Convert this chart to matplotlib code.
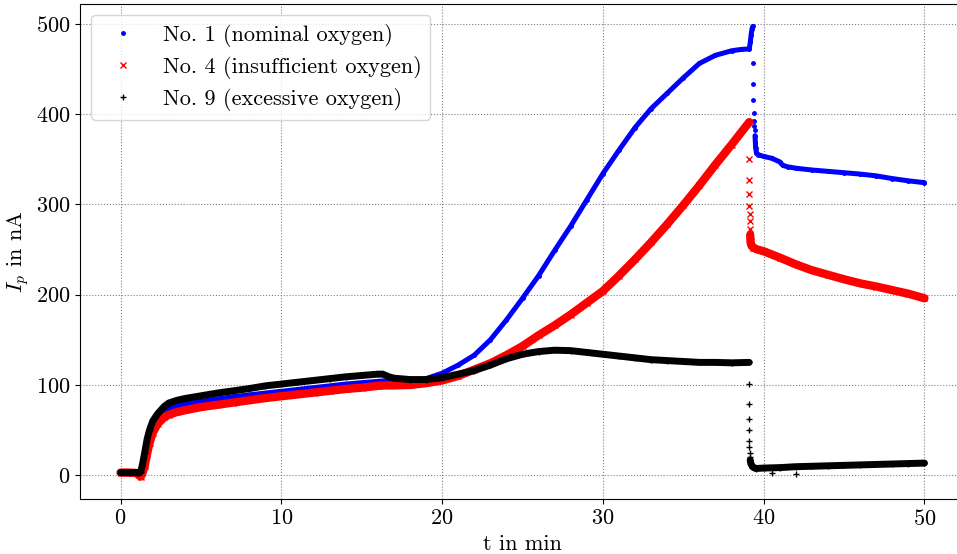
import matplotlib
matplotlib.use('Agg')
import matplotlib.pyplot as plt

plt.rcParams['font.family'] = ['cmr10', 'DejaVu Serif']
plt.rcParams['mathtext.fontset'] = 'cm'
plt.rcParams['axes.formatter.use_mathtext'] = True
plt.rcParams['axes.unicode_minus'] = False

# No. 1 (nominal oxygen) - vor dem Abfall, Abfall, danach
t_no1 = [0, 0.5, 1.0, 1.15, 1.25, 1.35, 1.5, 1.65, 1.8, 2.0, 2.3, 2.7, 3.0, 3.5, 4, 5, 6, 7, 8, 9,
         10, 11, 12, 13, 14, 15, 16, 16.3, 16.6, 17, 18, 19, 20, 21, 22, 23, 24, 25, 26, 27,
         28, 29, 30, 31, 32, 33, 34, 35, 36, 37, 38, 38.6, 39.1, 39.17, 39.22, 39.27, 39.32]
i_no1 = [3, 3, 3, 2, 1, 6, 18, 32, 45, 55, 64, 71, 74, 77, 79, 82, 84.5, 87, 89, 91,
         93, 95, 97, 99, 101, 102.5, 104, 104.5, 103.5, 103, 104, 107, 113, 122, 133, 150, 172, 196, 221, 249,
         276, 305, 334, 360, 385, 406, 423, 440, 456, 465, 470, 471.5, 472, 480, 488, 494, 497]
t_no1_drop = [39.34, 39.34, 39.35, 39.37, 39.4, 39.42, 39.44]
i_no1_drop = [456, 433, 416, 401, 392.5, 387, 382]
t_no1_after = [39.46, 39.48, 39.5, 39.55, 39.65, 40, 40.5, 41, 41.2, 41.5, 42, 43, 44, 45, 46, 47, 48, 49, 50]
i_no1_after = [376, 369, 362, 357, 355, 353, 351, 347, 343, 341.5, 340, 338, 336.5, 335, 333.5, 331.5, 328.5, 326, 324]

# No. 4 (insufficient oxygen)
t_no4 = [0, 0.5, 1.0, 1.15, 1.25, 1.35, 1.5, 1.65, 1.8, 2.0, 2.3, 2.7, 3.0, 3.5, 4, 5, 6, 7, 8, 9,
         10, 11, 12, 13, 14, 15, 16, 16.5, 17, 18, 19, 20, 21, 22, 23, 24, 25, 26, 27, 28,
         29, 30, 31, 32, 33, 34, 35, 36, 37, 38, 39.1]
i_no4 = [3, 3, 2.5, 0, -1.5, 2, 10, 24, 36, 47, 57, 64, 67, 70, 72, 75.5, 78, 80.5, 83, 85.5,
         87.5, 89.5, 91.5, 93.5, 95.5, 97, 99, 99.5, 99.5, 100, 102, 105, 110, 117, 124, 133, 143, 155, 166, 178,
         191, 204, 221, 239, 258, 278, 299, 321, 344, 366, 391]
t_no4_drop = [39.08, 39.08, 39.1, 39.11, 39.12, 39.13, 39.14]
i_no4_drop = [350, 327, 311, 298, 289, 281, 273]
t_no4_after = [39.16, 39.18, 39.22, 39.35, 39.6, 40, 41, 42, 43, 44, 45, 46, 47, 48, 49, 50]
i_no4_after = [266, 259, 255, 252, 250, 248, 241, 233.5, 227, 222, 217, 212.5, 209, 205, 201, 196]

# No. 9 (excessive oxygen)
t_no9 = [0, 0.5, 1.0, 1.15, 1.25, 1.35, 1.5, 1.65, 1.8, 2.0, 2.3, 2.7, 3.0, 3.5, 4, 5, 6, 7, 8, 9,
         10, 11, 12, 13, 14, 15, 16, 16.3, 16.7, 17, 18, 19, 20, 21, 22, 23, 24, 25, 26, 27,
         28, 29, 30, 31, 32, 33, 34, 35, 36, 37, 38, 39.1]
i_no9 = [3, 3, 3, 2.5, 4, 11, 25, 40, 50, 60, 68, 76, 80, 83, 85, 88, 91, 93.5, 96, 99,
         101, 103, 105, 107, 109, 110.5, 112, 112, 109, 107.5, 106, 106, 108, 112, 116, 122, 129, 134, 137, 138.5,
         138, 136, 134, 132, 130, 128, 127, 126, 125, 125, 124.5, 125]
t_no9_drop = [39.07, 39.07, 39.08, 39.08, 39.1, 39.11, 39.12, 39.13, 40.5, 42]
i_no9_drop = [101, 79, 62.5, 49.6, 38, 31, 25, 20, 2, 1]
t_no9_after = [39.16, 39.2, 39.3, 39.5, 40, 41, 42, 43, 44, 45, 46, 47, 48, 49, 50]
i_no9_after = [17, 13, 9.5, 7.5, 8, 8.5, 9.5, 10, 10.5, 11, 11.5, 12, 12.5, 13, 13.5]

fig, ax = plt.subplots(figsize=(9.57, 5.54), dpi=100)
# rechte Achsenkante liegt knapp ausserhalb des Bildes (wie im Original beschnitten)
fig.subplots_adjust(left=0.084, right=1.008, bottom=0.099, top=0.993)

series = [
    (t_no1, i_no1, t_no1_drop, i_no1_drop, t_no1_after, i_no1_after, 'blue', '.', 5, 3.6, 'No. 1 (nominal oxygen)'),
    (t_no4, i_no4, t_no4_drop, i_no4_drop, t_no4_after, i_no4_after, 'red', 'x', 4.5, 6.0, 'No. 4 (insufficient oxygen)'),
    (t_no9, i_no9, t_no9_drop, i_no9_drop, t_no9_after, i_no9_after, 'black', '+', 4.5, 5.0, 'No. 9 (excessive oxygen)'),
]

for t1, y1, t2, y2, t3, y3, col, mk, ms, lw, lab in series:
    # dichte Messpunkte als Band
    for tt, yy in [(t1, y1), (t3, y3)]:
        ax.plot(tt, yy, color=col, lw=lw, marker=mk, ms=ms, mew=1.0,
                solid_capstyle='round', solid_joinstyle='round')
    # einzelne Punkte beim Abfall
    ax.plot(t2, y2, color=col, ls='none', marker=mk, ms=ms, mew=1.0, label=lab)

ax.grid(True, linestyle=':', color='gray', lw=0.8)
ax.set_xlabel('t in min', fontsize=16)
ax.set_ylabel('$I_p$ in nA', fontsize=16)
ax.tick_params(labelsize=16)
ax.set_xticks([0, 10, 20, 30, 40, 50])
ax.set_yticks([0, 100, 200, 300, 400, 500])
ax.legend(loc='upper left', fontsize=16, labelspacing=0.4)

plt.savefig('out.png', dpi=100)
